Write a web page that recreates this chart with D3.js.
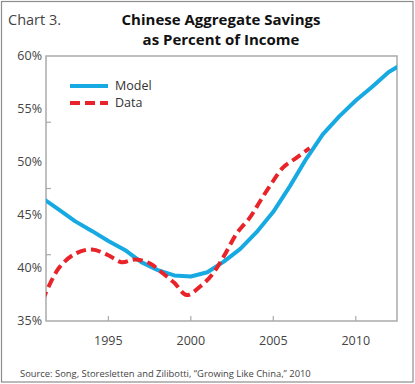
<!DOCTYPE html>
<html>
<head>
<meta charset="utf-8">
<script src="https://cdn.jsdelivr.net/npm/d3@7"></script>
<style>
  body { margin: 0; background: #fff; }
  svg { display: block; font-family: "Open Sans", "Liberation Sans", sans-serif; }
  .ylab, .xlab { fill: #444; font-size: 12.5px; }
</style>
</head>
<body>
<svg id="chart" width="415" height="384"></svg>
<script>
// model: annual values (% of income)
var modelYears = [1991, 1992, 1993, 1994, 1995, 1996, 1997, 1998, 1999, 2000, 2001, 2002,
                  2003, 2004, 2005, 2006, 2007, 2008, 2009, 2010, 2011, 2012, 2013];
var modelValues = [46.6, 45.5, 44.4, 43.5, 42.55, 41.7, 40.55, 39.8, 39.3, 39.2, 39.6, 40.6,
                   41.8, 43.4, 45.3, 47.7, 50.3, 52.6, 54.3, 55.8, 57.1, 58.5, 59.4];

// data
var dataYears = [1991, 1992, 1993, 1994, 1995, 1995.8, 1996.6, 1997.5, 1998.3, 1999, 1999.75,
                 2000.6, 2001.3, 2002, 2002.8, 2003.6, 2004.2, 2004.9, 2005.6, 2006.4, 2007.2];
var dataValues = [36.9, 40.0, 41.35, 41.75, 41.2, 40.55, 40.8, 40.45, 39.5, 38.6, 37.45,
                  38.3, 39.4, 41.1, 43.3, 44.8, 46.3, 48.0, 49.5, 50.4, 51.3];

var yTickLabels = [35, 40, 45, 50, 55, 60];
var yTickMarks = [41.25, 47.5, 53.75];
var xTickLabels = [1995, 2000, 2005, 2010];

var svg = d3.select("#chart");
var plotLeft = 46, plotRight = 397, plotTop = 56, plotBottom = 321;

var x = d3.scaleLinear().domain([1991.22, 2012.5]).range([plotLeft, plotRight]);
var y = d3.scaleLinear().domain([35, 60]).range([plotBottom, plotTop]);

// outer frame
svg.append("rect")
  .attr("x", 1.5).attr("y", 1.5).attr("width", 411.5).attr("height", 380.5)
  .attr("fill", "none").attr("stroke", "#8c8c8c").attr("stroke-width", 1.2);

// titles
svg.append("text").attr("x", 8).attr("y", 25)
  .attr("fill", "#444").style("font-size", "14.5px").text("Chart 3.");
svg.append("text").attr("x", 221).attr("y", 25).attr("text-anchor", "middle")
  .attr("fill", "#111").style("font-size", "15px").style("font-weight", "bold")
  .text("Chinese Aggregate Savings");
svg.append("text").attr("x", 221).attr("y", 45).attr("text-anchor", "middle")
  .attr("fill", "#111").style("font-size", "15px").style("font-weight", "bold")
  .text("as Percent of Income");

// plot box
svg.append("rect")
  .attr("x", plotLeft).attr("y", plotTop)
  .attr("width", plotRight - plotLeft).attr("height", plotBottom - plotTop)
  .attr("fill", "none").attr("stroke", "#aaa").attr("stroke-width", 1.5);

// y axis labels (no tick) and inner tick marks
svg.selectAll(".ylab").data(yTickLabels).enter().append("text")
  .attr("class", "ylab")
  .attr("x", 42).attr("y", function(d) { return y(d); })
  .attr("dy", "0.35em").attr("text-anchor", "end")
  .text(function(d) { return d + "%"; });
svg.selectAll(".ytick").data(yTickMarks).enter().append("line")
  .attr("x1", plotLeft).attr("x2", plotLeft + 5)
  .attr("y1", function(d) { return y(d); }).attr("y2", function(d) { return y(d); })
  .attr("stroke", "#aaa").attr("stroke-width", 1.2);

// x axis
svg.selectAll(".xtick").data(xTickLabels).enter().append("line")
  .attr("x1", function(d) { return x(d); }).attr("x2", function(d) { return x(d); })
  .attr("y1", plotBottom).attr("y2", plotBottom - 5)
  .attr("stroke", "#aaa").attr("stroke-width", 1.2);
svg.selectAll(".xlab").data(xTickLabels).enter().append("text")
  .attr("class", "xlab")
  .attr("x", function(d) { return x(d); }).attr("y", 345)
  .attr("text-anchor", "middle")
  .text(function(d) { return d; });

// clip lines to the plot area
svg.append("clipPath").attr("id", "plotclip")
  .append("rect").attr("x", plotLeft).attr("y", plotTop)
  .attr("width", plotRight - plotLeft).attr("height", plotBottom - plotTop);

var model = modelYears.map(function(d, i) { return [d, modelValues[i]]; });
var data = dataYears.map(function(d, i) { return [d, dataValues[i]]; });

var lineStraight = d3.line()
  .x(function(d) { return x(d[0]); })
  .y(function(d) { return y(d[1]); });
var lineSmooth = d3.line()
  .x(function(d) { return x(d[0]); })
  .y(function(d) { return y(d[1]); })
  .curve(d3.curveCatmullRom);

var g = svg.append("g").attr("clip-path", "url(#plotclip)");
g.append("path").datum(model)
  .attr("d", lineStraight)
  .attr("fill", "none").attr("stroke", "#17a9e1").attr("stroke-width", 4)
  .attr("stroke-linejoin", "round");
g.append("path").datum(data)
  .attr("d", lineSmooth)
  .attr("fill", "none").attr("stroke", "#e8242a").attr("stroke-width", 4)
  .attr("stroke-dasharray", "10,5");

// legend
var legend = [
  { name: "Model", color: "#17a9e1", dash: null, y: 86 },
  { name: "Data", color: "#e8242a", dash: "10,5", y: 103 }
];
legend.forEach(function(l) {
  svg.append("line")
    .attr("x1", 70).attr("x2", 108).attr("y1", l.y).attr("y2", l.y)
    .attr("stroke", l.color).attr("stroke-width", 4)
    .attr("stroke-dasharray", l.dash);
  svg.append("text").attr("x", 115).attr("y", l.y).attr("dy", "0.35em")
    .attr("fill", "#333").style("font-size", "12.5px").text(l.name);
});

// source
svg.append("text").attr("x", 20).attr("y", 377)
  .attr("fill", "#444").style("font-size", "9.4px")
  .text("Source: Song, Storesletten and Zilibotti, \u201cGrowing Like China,\u201d 2010");
</script>
</body>
</html>
